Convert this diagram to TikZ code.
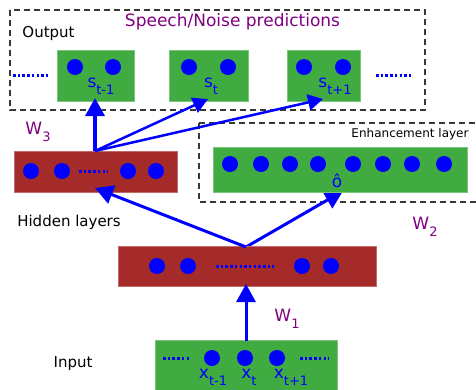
\documentclass[tikz,border=0pt]{standalone}
\usepackage{fontspec}
\setmainfont{DejaVu Sans}
\usetikzlibrary{arrows.meta,calc}
\definecolor{boxgreen}{HTML}{3FAB40}
\definecolor{boxred}{HTML}{A52A2A}
\definecolor{wpurple}{HTML}{800080}
\definecolor{dashgray}{HTML}{383838}
\newcommand{\sublbl}[2]{#1\raisebox{-0.4em}{\fontsize{13}{13}\selectfont #2}}
\tikzset{
  gbox/.style={fill=boxgreen, draw=boxgreen!70!white, line width=0.6pt, inner sep=0, minimum width=#1},
  rbox/.style={fill=boxred, draw=boxred!70!white, line width=0.6pt, inner sep=0, minimum width=#1},
  unit/.style={circle, fill=blue, inner sep=0, minimum size=16pt},
  dots/.style={blue, line width=3pt, dash pattern=on 2.5pt off 2.2pt},
  dbox/.style={dashgray, line width=1.2pt, dash pattern=on 6pt off 4pt},
  conn/.style={blue, line width=3pt, -{Triangle[length=18pt,width=19pt]}},
  thinconn/.style={blue, line width=2.5pt, -{Triangle[length=15pt,width=16pt]}},
  lbl/.style={inner sep=0, font=\fontsize{15}{15}\selectfont},
  wlbl/.style={inner sep=0, text=wpurple, font=\fontsize{17}{17}\selectfont},
  vlbl/.style={inner sep=0, text=blue, font=\fontsize{17}{17}\selectfont},
}
\begin{document}
\begin{tikzpicture}[x=1pt,y=-1pt]
\useasboundingbox (0,0) rectangle (476,389);
% dashed frames
\draw[dbox] (10,10) rectangle (425,110);
\draw[dbox] (199,123) -- (482,123) (199,123) -- (199,202) -- (482,202);
% texts
\node[lbl, text=wpurple, font=\fontsize{17}{17}\selectfont] (title) at (232.5,22) {Speech/Noise predictions};
\node[lbl] (outlbl) at (48.5,33) {Output};
\node[lbl, font=\fontsize{12}{12}\selectfont] (enhlbl) at (410,134) {Enhancement layer};
\node[lbl] (hidlbl) at (69,222) {Hidden layers};
\node[lbl] (inlbl) at (73,364) {Input};
\node[wlbl] (w3) at (38,132) {\sublbl{W}{3}};
\node[wlbl] (w2) at (425,227) {\sublbl{W}{2}};
\node[wlbl] (w1) at (287,319) {\sublbl{W}{1}};
% connector points
\coordinate (h1top) at (95,151);
\coordinate (t1) at (95,98);
\coordinate (t2) at (208,99);
\coordinate (t3) at (323,99);
\coordinate (h2top) at (246,247);
\coordinate (h1bot) at (95,188);
\coordinate (etip) at (343,191);
\coordinate (inpt) at (246,341);
\coordinate (h2bot) at (246,284);
% arrow whose tip lies under the enhancement box
\draw[conn] (h2top) -- (etip);
% output boxes
\node[gbox=77pt, minimum height=51pt] (out1) at (95.5,75.5) {};
\node[gbox=79pt, minimum height=51pt] (out2) at (208.5,75.5) {};
\node[gbox=73pt, minimum height=51pt] (out3) at (323.5,75.5) {};
\node[unit] (o1a) at (75,67) {};
\node[unit] (o1b) at (113,67) {};
\node[unit] (o2a) at (189,67) {};
\node[unit] (o2b) at (228,67) {};
\node[unit] (o3a) at (304,67) {};
\node[unit] (o3b) at (343,67) {};
\node[vlbl] (s1) at (101,86) {\sublbl{s}{t-1}};
\node[vlbl] (s2) at (211,86) {\sublbl{s}{t}};
\node[vlbl] (s3) at (335,86) {\sublbl{s}{t+1}};
\coordinate (dl1) at (13,75); \coordinate (dl2) at (49,75);
\coordinate (dr1) at (376,75); \coordinate (dr2) at (412,75);
\draw[dots] (dl1) -- (dl2);
\draw[dots] (dr1) -- (dr2);
% enhancement layer
\node[gbox=254pt, minimum height=45pt] (enh) at (340,169.5) {};
\foreach \i/\x in {1/230,2/261,3/290,4/318,5/353,6/383,7/412,8/444}
  \node[unit] (e\i) at (\x,164) {};
\node[vlbl] (ohat) at (337,181) {ô};
% hidden layer 1
\node[rbox=163pt, minimum height=41pt] (hid1) at (95.5,171.5) {};
\node[unit] (h1a) at (31,171) {};
\node[unit] (h1b) at (62,171) {};
\node[unit] (h1c) at (128,171) {};
\node[unit] (h1d) at (156,171) {};
\coordinate (hd1) at (79,171); \coordinate (hd2) at (108,171);
\draw[dots] (hd1) -- (hd2);
% hidden layer 2
\node[rbox=258pt, minimum height=40pt] (hid2) at (247,266) {};
\node[unit] (h2a) at (157,266) {};
\node[unit] (h2b) at (188,266) {};
\node[unit] (h2c) at (302,266) {};
\node[unit] (h2d) at (331,266) {};
\coordinate (hd3) at (216,266); \coordinate (hd4) at (274,266);
\draw[dots] (hd3) -- (hd4);
% input layer
\node[gbox=182pt, minimum height=52pt] (inp) at (246,366) {};
\node[unit] (x1) at (212,358) {};
\node[unit] (x2) at (245,358) {};
\node[unit] (x3) at (277,358) {};
\node[vlbl] (xl1) at (213,377) {\sublbl{x}{t-1}};
\node[vlbl] (xl2) at (249,377) {\sublbl{x}{t}};
\node[vlbl] (xl3) at (291,377) {\sublbl{x}{t+1}};
\coordinate (id1) at (163,358); \coordinate (id2) at (191,358);
\coordinate (id3) at (300,358); \coordinate (id4) at (329,358);
\draw[dots] (id1) -- (id2);
\draw[dots] (id3) -- (id4);
% connectors over the boxes
\draw[conn, line width=3.5pt] (h1top) -- (t1);
\draw[thinconn] (h1top) -- (t2);
\draw[thinconn] (h1top) -- (t3);
\draw[conn] (h2top) -- (h1bot);
\draw[conn] (inpt) -- (h2bot);
\end{tikzpicture}
\end{document}
